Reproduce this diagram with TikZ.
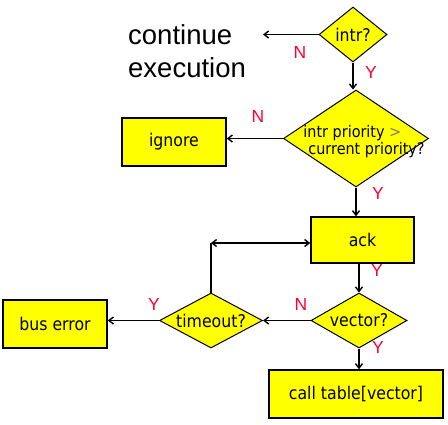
\documentclass[tikz,border=0pt]{standalone}
\usepackage{fontspec}
\setmainfont{DejaVu Sans}[FakeStretch=0.9]
\newfontfamily\flagfont{Liberation Sans}
\usetikzlibrary{shapes.geometric,arrows.meta}
\definecolor{boxyellow}{RGB}{255,255,0}
\definecolor{flagred}{RGB}{255,0,51}

\tikzset{
  procbox/.style={draw, fill=boxyellow, line width=1.5pt, inner sep=0pt, font=\fontsize{17.5}{19}\selectfont},
  decision/.style={diamond, draw, fill=boxyellow, line width=1pt, inner sep=0pt},
  qlabel/.style={font=\fontsize{17.5}{19}\selectfont, inner sep=0pt},
  flag/.style={text=flagred, font=\flagfont\fontsize{17.5}{20}\selectfont, inner sep=0pt},
  flow/.style={line width=1.4pt, ->},
}

\begin{document}
\begin{tikzpicture}[x=1pt, y=-1pt, >={Straight Barb[length=4.5pt,width=7pt]}]
  \useasboundingbox (0,0) rectangle (448,424);
  % decisions
  \node[decision, minimum width=68, minimum height=55, label={[qlabel]center:intr?}] (intr) at (353,34.5) {};
  \node[decision, minimum width=145, minimum height=97, label={[qlabel, font=\fontsize{16}{17}\selectfont, align=left, xshift=8pt, yshift=-3pt]center:intr priority {\color{gray}>}\\\hspace*{5pt}current priority?}] (prio) at (356,138.5) {};
  \node[decision, minimum width=96, minimum height=55, label={[qlabel]center:vector?}] (vector) at (359,320.5) {};
  \node[decision, minimum width=103, minimum height=55, label={[qlabel]center:timeout?}] (timeout) at (211,320.5) {};
  % boxes
  \node[procbox, minimum width=104, minimum height=48] (ignore) at (174,142) {ignore};
  \node[procbox, minimum width=103, minimum height=46] (ack) at (362.5,240) {ack};
  \node[procbox, minimum width=174, minimum height=48] (call) at (356,394) {call table[vector]};
  \node[procbox, minimum width=104, minimum height=48] (buserr) at (55,324) {bus error};
  \node[anchor=west, align=left, inner sep=0pt, font=\flagfont\fontsize{27.5}{33}\selectfont] (cont) at (128,51) {continue\\execution};
  \coordinate (contend) at (263,34.5);
  \coordinate (loop) at (211,243);
  % connectors
  \draw[flow] (intr.west) -- (contend);
  \draw[flow] (intr.south) -- (intr.south |- prio.north);
  \draw[flow] (prio.west) -- (prio.west -| ignore.east);
  \draw[flow] (prio.south) -- (prio.south |- ack.north);
  \draw[flow] (vector.north |- ack.south) -- (vector.north);
  \draw[flow] (vector.south) -- (vector.south |- call.north);
  \draw[flow] (vector.west) -- (timeout.east);
  \draw[flow] (timeout.west) -- (timeout.west -| buserr.east);
  \draw[line width=1.4pt] (timeout.north) -- (loop);
  \draw[flow, <->] (loop) -- (loop -| ack.west);
  % Y / N
  \node[flag] (n1) at (300,52.5) {N};
  \node[flag] (y1) at (371,72.5) {Y};
  \node[flag] (n2) at (258,116) {N};
  \node[flag] (y2) at (378,193) {Y};
  \node[flag] (y3) at (377,270) {Y};
  \node[flag] (n3) at (301,304) {N};
  \node[flag] (y4) at (154,304) {Y};
  \node[flag] (y5) at (378,347) {Y};
\end{tikzpicture}
\end{document}
